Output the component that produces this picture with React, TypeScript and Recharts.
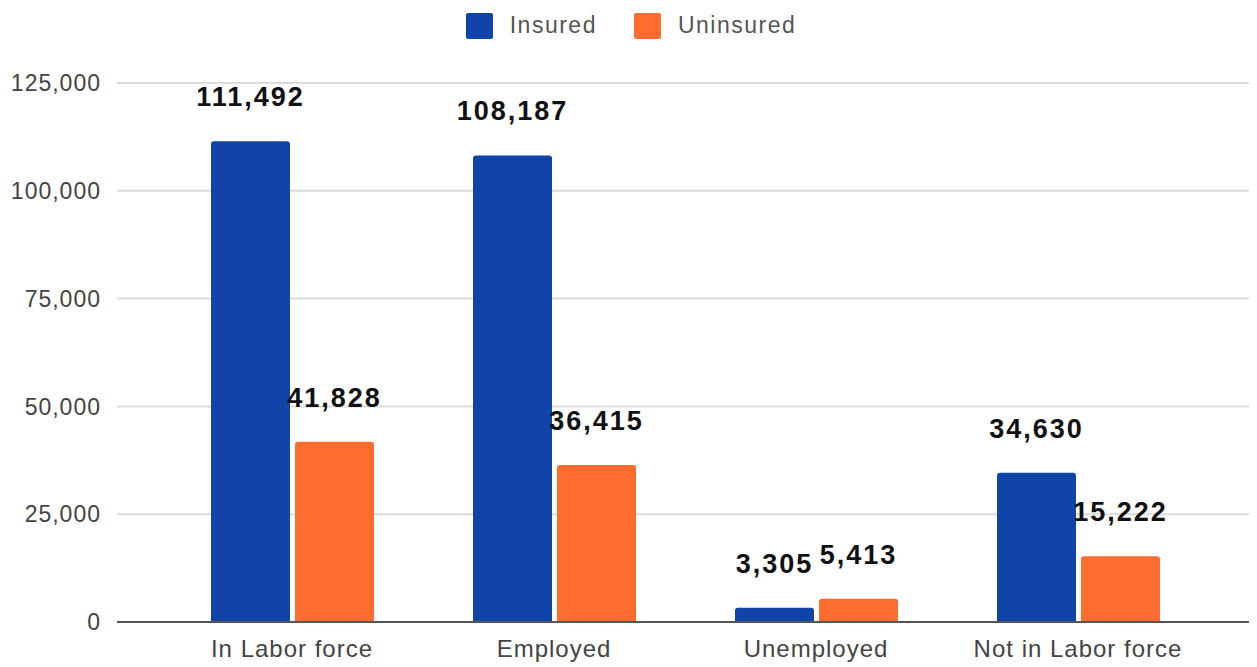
import { Bar, BarChart, CartesianGrid, LabelList, Legend, XAxis, YAxis } from 'recharts';

const categories = ['In Labor force', 'Employed', 'Unemployed', 'Not in Labor force'];
const insured = [111492, 108187, 3305, 34630];
const uninsured = [41828, 36415, 5413, 15222];
const yTicks = [0, 25000, 50000, 75000, 100000, 125000];

const BLUE = '#1044a9';
const ORANGE = '#ff6c2f';
const FONT = '"Liberation Sans", Arial, sans-serif';

const data = categories.map((name, i) => ({
  name,
  Insured: insured[i],
  Uninsured: uninsured[i],
}));

const fmt = (v: number) => v.toLocaleString('en-US');

function LegendContent() {
  const items = [
    { label: 'Insured', color: BLUE },
    { label: 'Uninsured', color: ORANGE },
  ];
  return (
    <div style={{ display: 'flex', justifyContent: 'center', alignItems: 'center', gap: 37 }}>
      {items.map((it) => (
        <div key={it.label} style={{ display: 'flex', alignItems: 'center' }}>
          <span
            style={{
              display: 'inline-block',
              width: 27,
              height: 26,
              background: it.color,
              borderRadius: 2,
              marginRight: 17,
            }}
          />
          <span style={{ fontFamily: FONT, fontSize: 23, letterSpacing: 1.5, color: '#555' }}>{it.label}</span>
        </div>
      ))}
    </div>
  );
}

export default function App() {
  return (
    <BarChart
      width={1249}
      height={659}
      data={data}
      margin={{ top: 48, right: 3, bottom: 0, left: 0 }}
      barGap={5}
      barCategoryGap={50}
    >
      <Legend verticalAlign="top" align="center" content={<LegendContent />} wrapperStyle={{ top: 4 }} />
      <CartesianGrid vertical={false} stroke="#dcdcdc" strokeWidth={2} />
      <XAxis
        dataKey="name"
        padding={{ left: 44, right: 45 }}
        tickLine={false}
        axisLine={{ stroke: '#555', strokeWidth: 2 }}
        tickMargin={12}
        height={45}
        tick={{ fill: '#444', fontSize: 24, letterSpacing: 1, fontFamily: FONT }}
      />
      <YAxis
        domain={[0, 125000]}
        ticks={yTicks}
        tickFormatter={fmt}
        width={109}
        tickLine={false}
        axisLine={false}
        tickSize={0}
        tickMargin={16}
        tick={{ fill: '#444', fontSize: 23, letterSpacing: 1, fontFamily: FONT }}
      />
      <Bar dataKey="Insured" fill={BLUE} radius={[3, 3, 0, 0]} isAnimationActive={false}>
        <LabelList
          dataKey="Insured"
          position="top"
          offset={35}
          formatter={(v: number) => fmt(v)}
          style={{ fill: '#111', fontSize: 27, letterSpacing: 2, fontWeight: 700, fontFamily: FONT }}
        />
      </Bar>
      <Bar dataKey="Uninsured" fill={ORANGE} radius={[3, 3, 0, 0]} isAnimationActive={false}>
        <LabelList
          dataKey="Uninsured"
          position="top"
          offset={35}
          formatter={(v: number) => fmt(v)}
          style={{ fill: '#111', fontSize: 27, letterSpacing: 2, fontWeight: 700, fontFamily: FONT }}
        />
      </Bar>
    </BarChart>
  );
}
